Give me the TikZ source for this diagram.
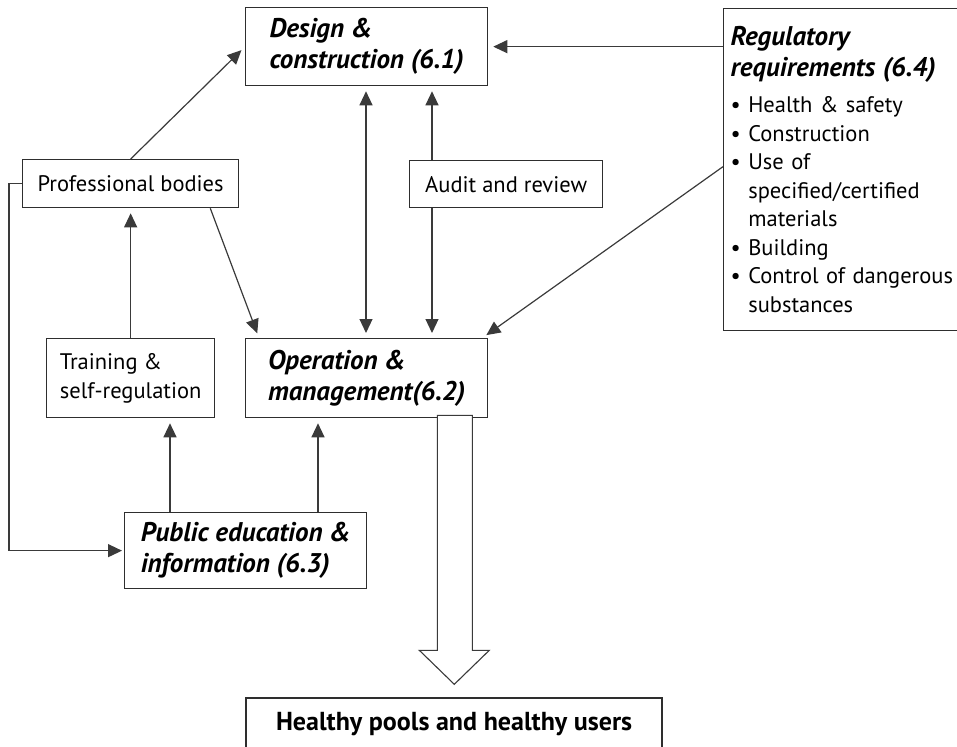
\documentclass[tikz,border=0pt]{standalone}
\usepackage{fontspec}
\setmainfont{PT Sans}
\usetikzlibrary{arrows.meta,calc}
\definecolor{boxc}{HTML}{2E2E2E}
\definecolor{linec}{HTML}{3A3A3A}
\newcommand{\ttlfont}{\fontsize{27}{31}\selectfont\bfseries\itshape}
\newcommand{\txtfont}{\fontsize{22.5}{29}\selectfont\mdseries\upshape}
\newcommand{\regfont}{\fontsize{22.5}{28.5}\selectfont\mdseries\upshape}
\begin{document}
\begin{tikzpicture}[x=1pt,y=-1pt,
  bx/.style={draw=boxc, line width=1.3pt, rectangle, anchor=north west, align=left,
    inner xsep=0pt, inner ysep=0pt, text=black, font=\txtfont},
  ttl/.style={font=\ttlfont},
  arr/.style={draw=linec, line width=1.2pt, -{Triangle[length=14pt,width=13pt]}, shorten >=5pt},
  darr/.style={draw=linec, line width=1.2pt, {Triangle[length=14pt,width=13pt]}-{Triangle[length=14pt,width=13pt]}, shorten >=5pt, shorten <=5pt},
]
\useasboundingbox (0,0) rectangle (957,746);
\clip (0,0) rectangle (957,746);

% boxes
\node[bx, ttl, minimum width=242pt, minimum height=78pt] (des) at (245,7) {Design \&\\construction (6.1)};
\node[bx, text width=240pt, inner xsep=7pt, minimum height=322pt] (reg) at (723,8)
  {\ttlfont Regulatory\\[0pt]requirements (6.4)\\[8pt]\regfont
   • Health \& safety\\
   • Construction\\
   • Use of\\
   \hphantom{• }specified/certified\\
   \hphantom{• }materials\\
   • Building\\
   • Control of dangerous\\
   \hphantom{• }substances};
\node[bx, minimum width=216pt, minimum height=48pt] (prof) at (22,159) {Professional bodies};
\node[bx, minimum width=193pt, minimum height=47pt] (audit) at (409,160) {Audit and review};
\node[bx, minimum width=168pt, minimum height=79pt] (train) at (46,338) {Training \&\\self-regulation};
\node[bx, ttl, minimum width=242pt, minimum height=79pt] (op) at (245,338) {Operation \&\\management(6.2)};
\node[bx, ttl, minimum width=242pt, minimum height=76pt] (pub) at (124,512) {Public education \&\\information (6.3)};
\node[bx, line width=2.2pt, minimum width=416pt, minimum height=52pt, font=\fontsize{26}{30}\selectfont\bfseries] (heal) at (245,697) {Healthy pools and healthy users};

% connectors
\draw[arr] (prof.north) -- (des.west);
\draw[arr] (des.east -| reg.west) -- (des.east);
\draw[arr] ([yshift=3pt]reg.west) -- ([xshift=-6pt]op.north east);
\draw[arr] ([xshift=-29pt]prof.south east) -- ([xshift=14pt]op.north west);
\draw[arr] (train.north) -- (prof.south);
\draw[arr] ([xshift=46pt]pub.north west) coordinate (p1) -- (p1 |- train.south);
\draw[arr] ([xshift=194pt]pub.north west) coordinate (p2) -- (p2 |- op.south);
\draw[arr, shorten >=2pt] (prof.west) -- ++(-13,0) |- (pub.west);
\draw[darr] ([xshift=121pt]des.south west) coordinate (d1) -- (d1 |- op.north);
\draw[arr] ([xshift=23pt]audit.north west) coordinate (a1) -- (a1 |- des.south);
\draw[arr] ([xshift=23pt]audit.south west) coordinate (a2) -- (a2 |- op.north);

% big hollow arrow
\coordinate (bt) at ([xshift=-51pt, yshift=3pt]op.south east);
\draw[draw=linec, line width=1.1pt, fill=white]
  (bt) -- ++(0,235) -- ++(-18,0) -- ++(35,34) -- ++(35,-34) -- ++(-17,0) -- ++(0,-235) -- cycle;
\end{tikzpicture}
\end{document}
